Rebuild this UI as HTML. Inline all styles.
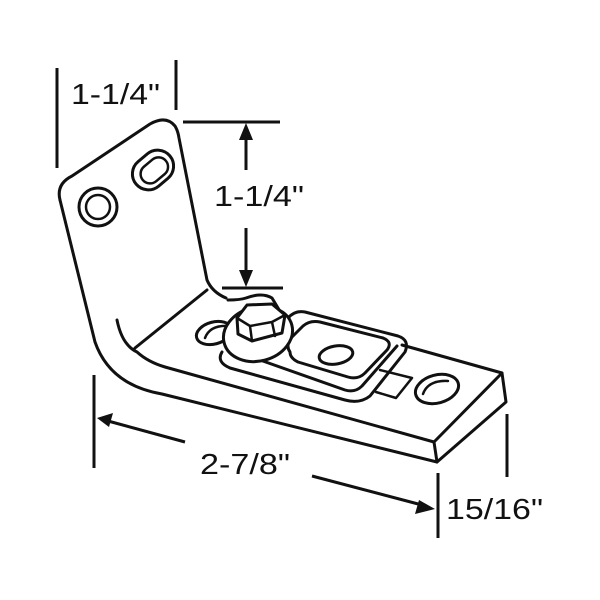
<!DOCTYPE html>
<html><head><style>html,body{margin:0;padding:0;background:#fff}svg{display:block}</style></head>
<body>
<svg width="600" height="600" viewBox="0 0 600 600" xmlns="http://www.w3.org/2000/svg">
<g fill="none" stroke="#111" stroke-width="3" stroke-linejoin="round" stroke-linecap="round">
<path d="M60,200 Q56,184 72,176 L150,124 Q166,115 175,126 Q178,131 179,138 L207,280 Q212,292 226,298"/>
<path d="M60,200 L95,342 Q110,385 162,394 L437,462"/>
<path d="M117,320 Q122,345 137,352 Q148,362 165,367 L434,442"/>
<path d="M207,290 L135,348"/>
<path d="M402,345 L502,373 L506,402 L437,462 L434,442 L502,373"/>
<circle cx="98" cy="207" r="19"/>
<circle cx="98" cy="207" r="12" stroke-width="2.5"/>
<rect x="131" y="154" width="44" height="32" rx="16" transform="rotate(-40 153 170)"/>
<rect x="139" y="161" width="30" height="19" rx="9.5" transform="rotate(-40 154 170)" stroke-width="2.5"/>
<ellipse cx="214" cy="333" rx="18" ry="11" transform="rotate(-15 214 333)"/>
<path d="M205,338 Q210,325 228,326" stroke-width="2.5"/>
<path d="M222,352 Q216,362 230,368 L345,400 Q360,404 370,396 L405,352 Q410,340 398,336 L305,312 Q295,310 288,318"/>
<path d="M260,360 L345,390 Q355,393 362,386 L397,346"/>
<path d="M290,352 Q285,345 292,337 L303,326 Q310,320 320,322 L383,338 Q393,342 387,350 L365,373 Q358,380 348,377 L298,362 Q290,358 290,352 Z"/>
<ellipse cx="336" cy="355" rx="17" ry="9" transform="rotate(-10 336 355)"/>
<ellipse cx="258" cy="334" rx="35" ry="27" transform="rotate(-15 258 334)" fill="#fff"/>
<path d="M228,300 Q240,300 246,298 Q262,292 272,298 L284,318" fill="#fff"/>
<path d="M237,318 L247,305 L272,304 L285,315 L282,333 L252,341 L238,334 Z" fill="#fff"/>
<path d="M237,318 L250,326 L272,322 L285,315 M250,326 L252,341 M272,322 L275,336" stroke-width="2.5"/>
<path d="M380,370 L412,378 L396,398 L376,392" stroke-width="2.5"/>
<ellipse cx="437" cy="389" rx="22" ry="14" transform="rotate(-15 437 389)"/>
<path d="M423,394 Q428,380 448,381" stroke-width="2.5"/>
</g>
<g stroke="#111" stroke-width="3" fill="none">
<line x1="57" y1="68" x2="57" y2="168"/>
<line x1="176" y1="60" x2="176" y2="110"/>
<line x1="183" y1="122" x2="280" y2="122"/>
<line x1="222" y1="288" x2="283" y2="288"/>
<line x1="246" y1="135" x2="246" y2="170"/>
<line x1="246" y1="228" x2="246" y2="276"/>
<line x1="94" y1="375" x2="94" y2="468"/>
<line x1="108" y1="421" x2="185" y2="442"/>
<line x1="312" y1="476" x2="422" y2="505"/>
<line x1="438" y1="473" x2="438" y2="538"/>
<line x1="507" y1="414" x2="507" y2="477"/>
</g>
<g fill="#111">
<polygon points="246,123 239,140 253,140"/>
<polygon points="246,287 239,270 253,270"/>
<polygon points="97,418 113,413 109,427"/>
<polygon points="435,509 419,500 415,514"/>
</g>
<g font-family="Liberation Sans, sans-serif" font-size="29" fill="#111">
<text x="71" y="104" textLength="89" lengthAdjust="spacingAndGlyphs">1-1/4"</text>
<text x="214" y="206" textLength="90" lengthAdjust="spacingAndGlyphs">1-1/4"</text>
<text x="200" y="474" textLength="90" lengthAdjust="spacingAndGlyphs">2-7/8"</text>
<text x="446" y="519" textLength="97" lengthAdjust="spacingAndGlyphs">15/16"</text>
</g>
</svg>
</body></html>
